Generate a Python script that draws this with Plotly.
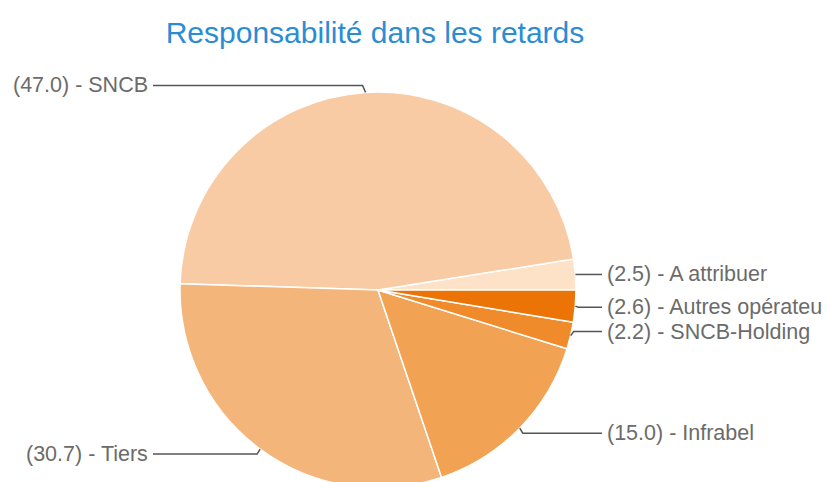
import math
import plotly.graph_objects as go

# ---- data ----
labels = ["A attribuer", "SNCB", "Tiers", "Infrabel", "SNCB-Holding", "Autres opérateurs"]
label_texts = ["A attribuer", "SNCB", "Tiers", "Infrabel", "SNCB-Holding", "Autres opérateu"]
values = [2.5, 47.0, 30.7, 15.0, 2.2, 2.6]
colors = ["#fde2c8", "#f8cba4", "#f4b57b", "#f2a253", "#f08b2c", "#ec7406"]
title_text = "Responsabilité dans les retards"

# ---- layout constants (pixels, page coordinates) ----
W, H = 830, 482
OFF = 8  # page body margin
CX, CY, R = 378, 290, 198
label_side = ["right", "left", "left", "right", "right", "right"]
label_dy = [0, -7, 5, 5, -4, 1]
label_x = {"left": 150, "right": 605}
text_color = "#6b6b6b"
line_color = "#555555"
FONT = "Liberation Sans, Arial, sans-serif"


def px(x):
    return (x - OFF) / W


def py(y):
    return 1 - (y - OFF) / H


total = sum(values)
# plotly counterclockwise pies put the first slice just clockwise of `rotation`;
# shift so the first slice starts at 3 o'clock and goes counterclockwise
rotation = 90 - values[0] / total * 360

fig = go.Figure()
fig.add_trace(go.Pie(
    labels=labels,
    values=values,
    sort=False,
    direction="counterclockwise",
    rotation=rotation,
    textinfo="none",
    hoverinfo="label+value",
    marker=dict(colors=colors, line=dict(color="white", width=1.5)),
    domain=dict(x=[px(CX - R), px(CX + R)], y=[max(0, py(CY + R)), py(CY - R)]),
    showlegend=False,
))

cum = 0.0
shapes = []
annotations = []
for lab, v, side, dy in zip(label_texts, values, label_side, label_dy):
    mid = (cum + v / 2) / total * 2 * math.pi  # counterclockwise from 3 o'clock
    cum += v
    ex = CX + R * math.cos(mid)
    ey = CY - R * math.sin(mid)
    ly = ey + dy
    tx = label_x[side]
    if side == "right":
        path = f"M {px(ex)},{py(ey)} L {px(ex + 3)},{py(ly)} L {px(tx - 3)},{py(ly)}"
    else:
        path = f"M {px(ex)},{py(ey)} L {px(ex - 3)},{py(ly)} L {px(tx + 3)},{py(ly)}"
    shapes.append(dict(type="path", xref="paper", yref="paper", path=path,
                       line=dict(color=line_color, width=1.5)))
    annotations.append(dict(
        x=px(tx), y=py(ly), xref="paper", yref="paper",
        text=f"({v:.1f}) - {lab}", showarrow=False,
        xanchor="left" if side == "right" else "right", yanchor="middle",
        font=dict(family=FONT, size=21.5, color=text_color),
    ))

fig.update_layout(
    width=W, height=H,
    margin=dict(l=0, r=0, t=0, b=0),
    paper_bgcolor="white",
    plot_bgcolor="white",
    title=dict(text=title_text, x=px(375), xanchor="center", y=py(32), yanchor="middle",
               font=dict(family=FONT, size=30, color="#2a8dd4")),
    shapes=shapes,
    annotations=annotations,
)

fig.write_html("out.html")
